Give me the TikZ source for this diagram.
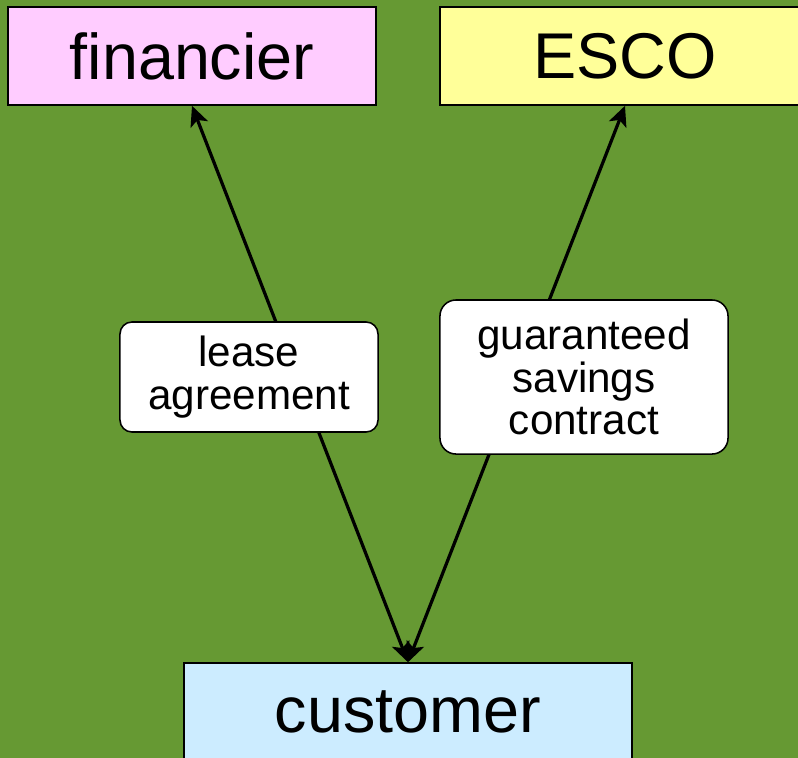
\documentclass[tikz,border=0pt]{standalone}
\usepackage{fontspec}
\setmainfont{Liberation Sans}
\usetikzlibrary{arrows.meta,positioning}

\definecolor{bggreen}{RGB}{102,153,51}
\definecolor{fpink}{RGB}{255,204,255}
\definecolor{eyellow}{RGB}{255,255,153}
\definecolor{cblue}{RGB}{204,236,255}

\begin{document}
\begin{tikzpicture}[
x=0.025cm, y=-0.025cm,
party/.style={rectangle, draw, line width=1.1pt, align=center, minimum width=9.2cm, minimum height=2.45cm, font=\fontsize{46}{50}\selectfont},
deal/.style={rectangle, rounded corners=0.3cm, draw, fill=white, line width=1.1pt, align=center, font=\fontsize{30}{30.5}\selectfont},
arrow/.style={{Stealth[length=5mm,width=4.6mm,inset=1.2mm]}-{Stealth[length=5mm,width=4.6mm,inset=1.2mm]}, line width=2.3pt}
]
\fill[bggreen] (0,0) rectangle (798,758);
\useasboundingbox (0,0) rectangle (798,758);
\node[party, fill=fpink] (financier) at (192,56) {financier};
\node[party, fill=eyellow, minimum width=9.25cm] (esco) at (625,56) {ESCO};
\node[party, fill=cblue, minimum width=11.2cm] (customer) at (408,712) {customer};
\draw[arrow] (financier.south) -- (customer.north);
\draw[arrow] (esco.south) -- (customer.north);
\node[deal, minimum width=6.45cm, minimum height=2.75cm] (lease) at (249,377) {lease\\agreement};
\node[deal, rounded corners=0.4cm, minimum width=7.2cm, minimum height=3.85cm] (savings) at (584,377) {guaranteed\\savings\\contract};
\end{tikzpicture}
\end{document}
